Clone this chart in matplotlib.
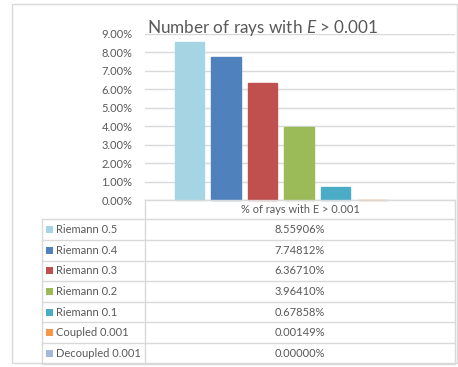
import numpy as np
import matplotlib
matplotlib.use("Agg")
import matplotlib.pyplot as plt
from matplotlib.patches import Rectangle

plt.rcParams['font.family'] = ['Lato', 'DejaVu Sans']
plt.rcParams['mathtext.fontset'] = 'custom'
plt.rcParams['mathtext.rm'] = 'Lato'
plt.rcParams['mathtext.it'] = 'Lato:italic'

# data
series = ['Riemann 0.5', 'Riemann 0.4', 'Riemann 0.3', 'Riemann 0.2',
          'Riemann 0.1', 'Coupled 0.001', 'Decoupled 0.001']
values = [8.55906, 7.74812, 6.36710, 3.96410, 0.67858, 0.00149, 0.00000]
colors = ['#A5D5E2', '#4F81BD', '#C0504D', '#9BBB59',
          '#4BACC6', '#F79646', '#A5B8DC']
column_label = '% of rays with E > 0.001'
yticks = np.arange(0, 10, 1)

W, H = 458, 367
TEXT = '#595959'
GRID = '#D9D9D9'


def fx(px):
    return px / W


def fy(py):
    return 1 - py / H


fig = plt.figure(figsize=(W / 100, H / 100), dpi=100)

# chart area border
fig.patches.append(Rectangle((fx(12), fy(363)), fx(457) - fx(12), fy(4) - fy(363),
                             transform=fig.transFigure, fill=False,
                             edgecolor=GRID, linewidth=1.0))

# plot area
left, right, top, bottom = 145, 455, 34, 200
ax = fig.add_axes([fx(left), fy(bottom), fx(right) - fx(left), fy(top) - fy(bottom)])
x = np.arange(len(values))
# thin edge so tiny non-zero bars still show as a line (as Excel does)
bars = ax.bar(x, values, width=0.8, color=colors, edgecolor=colors,
              linewidth=[1.0 if v > 0 else 0 for v in values], zorder=3)
for b in bars:
    b.set_clip_on(False)
ax.set_xlim(-1.22, 7.27)
ax.set_ylim(0, 9)
ax.set_yticks(yticks)
ax.set_yticklabels([f'{t:.2f}%' for t in yticks], color=TEXT, fontsize=8)
ax.tick_params(axis='y', length=0, pad=9)
ax.set_xticks([])
ax.yaxis.grid(True, color=GRID, linewidth=1.0, zorder=0)
for s in ax.spines.values():
    s.set_visible(False)

# title
fig.text(fx(147), fy(28), r'Number of rays with $E$ > 0.001', fontsize=12.3,
         color=TEXT, ha='left', va='center')

# data table
row_h = 20.6
rows_top = 219.3
tab_left, col_split, tab_right = 42, 145, 455
line_kw = dict(color=GRID, linewidth=1.0, transform=fig.transFigure)

# header cell
fig.add_artist(plt.Line2D([fx(col_split), fx(col_split)], [fy(bottom), fy(363)], **line_kw))
fig.add_artist(plt.Line2D([fx(tab_right), fx(tab_right)], [fy(bottom), fy(363)], **line_kw))
fig.add_artist(plt.Line2D([fx(col_split), fx(tab_right)], [fy(bottom), fy(bottom)], **line_kw))
fig.add_artist(plt.Line2D([fx(tab_left), fx(tab_left)], [fy(rows_top), fy(363)], **line_kw))
fig.text(fx(300), fy((bottom + rows_top) / 2), column_label, fontsize=7.9,
         color=TEXT, ha='center', va='center')

for i, (name, val, col) in enumerate(zip(series, values, colors)):
    y0 = rows_top + i * row_h
    yc = y0 + row_h / 2
    fig.add_artist(plt.Line2D([fx(tab_left), fx(tab_right)], [fy(y0), fy(y0)], **line_kw))
    fig.patches.append(Rectangle((fx(46), fy(yc + 3.5)), fx(7), 7 / H,
                                 transform=fig.transFigure, facecolor=col,
                                 edgecolor='none'))
    fig.text(fx(56), fy(yc), name, fontsize=8, color=TEXT, ha='left', va='center')
    fig.text(fx(300), fy(yc), f'{val:.5f}%', fontsize=8, color=TEXT,
             ha='center', va='center')
fig.add_artist(plt.Line2D([fx(tab_left), fx(tab_right)],
                          [fy(rows_top + 7 * row_h), fy(rows_top + 7 * row_h)], **line_kw))

fig.savefig('out.png', dpi=100)
